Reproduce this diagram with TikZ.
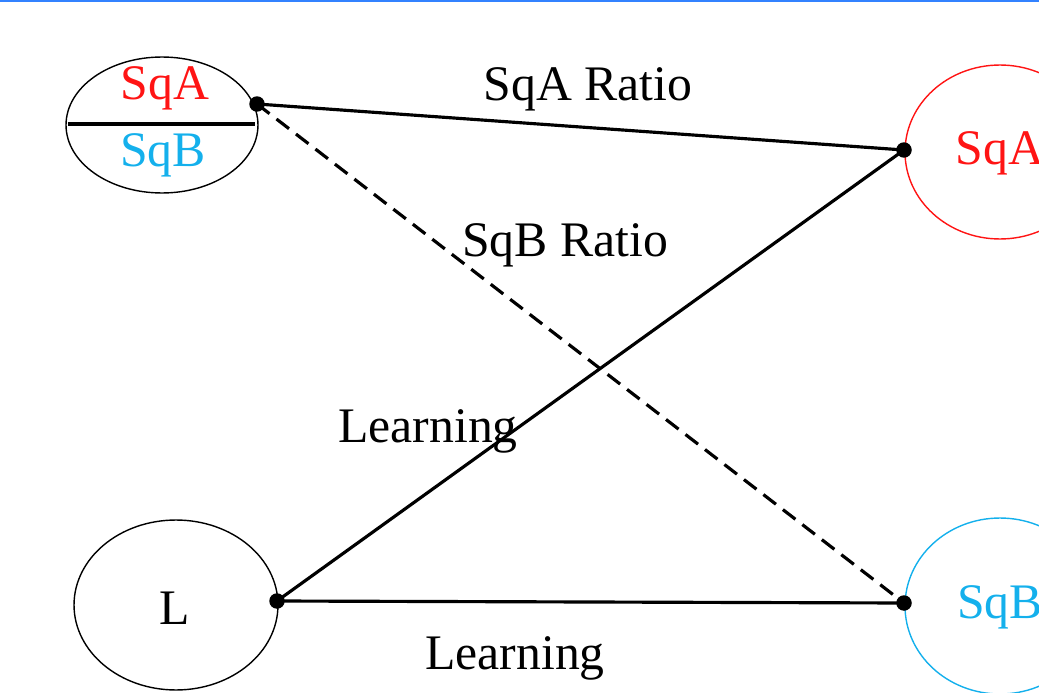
\documentclass[tikz,border=0pt]{standalone}
\usepackage{fontspec}
\setmainfont{Liberation Serif}
\usetikzlibrary{shapes.geometric}
\definecolor{sqared}{RGB}{255,20,20}
\definecolor{sqbblue}{RGB}{20,176,236}
\definecolor{topblue}{RGB}{50,130,255}
\begin{document}
\begin{tikzpicture}[x=0.02cm, y=-0.02cm,
    font=\fontsize{28.3}{33}\selectfont,
    bubble/.style={draw, ellipse, line width=0.8pt, inner sep=0pt},
    dot/.style={circle, fill, inner sep=0pt, minimum size=0.31cm},
    link/.style={line width=1.8pt}]
  \useasboundingbox (0,0) rectangle (1039,693);
  \clip (0,0) rectangle (1039,693);
  \draw[topblue, line width=1.2pt] (0,1) -- (1039,1);

  % bubbles
  \node[bubble, minimum width=3.84cm, minimum height=2.72cm] (ratio) at (162,125) {};
  \node[bubble, minimum width=4.08cm, minimum height=3.4cm] (learn) at (176,605) {};
  \node[bubble, draw=sqared, minimum width=3.8cm, minimum height=3.48cm] (sqa) at (1000,152) {};
  \node[bubble, draw=sqbblue, minimum width=3.8cm, minimum height=3.52cm] (sqb) at (1000,606) {};

  \draw[line width=2.4pt] (68,124) -- (255,124);
  \node[text=sqared] (ratioa) at (165,88) {SqA};
  \node[text=sqbblue] (ratiob) at (163,155) {SqB};
  \node (learnt) at (175,608) {L};
  \node[text=sqared] (sqat) at (1000,153) {SqA};
  \node[text=sqbblue] (sqbt) at (1000,607) {SqB};

  % end points
  \node[dot] (p1) at (257,104) {};
  \node[dot] (p2) at (277,601) {};
  \node[dot] (p3) at (904,150) {};
  \node[dot] (p4) at (904,603) {};

  \draw[link] (p1.center) -- (p3.center);
  \draw[link, dashed, dash pattern=on 9pt off 5pt] (p1.center) -- (p4.center);
  \draw[link] (p2.center) -- (p3.center);
  \draw[link] (p2.center) -- (p4.center);

  \node (lab1) at (588,89) {SqA Ratio};
  \node (lab2) at (565,245) {SqB Ratio};
  \node (lab3) at (428,431) {Learning};
  \node (lab4) at (515,658) {Learning};
\end{tikzpicture}
\end{document}
